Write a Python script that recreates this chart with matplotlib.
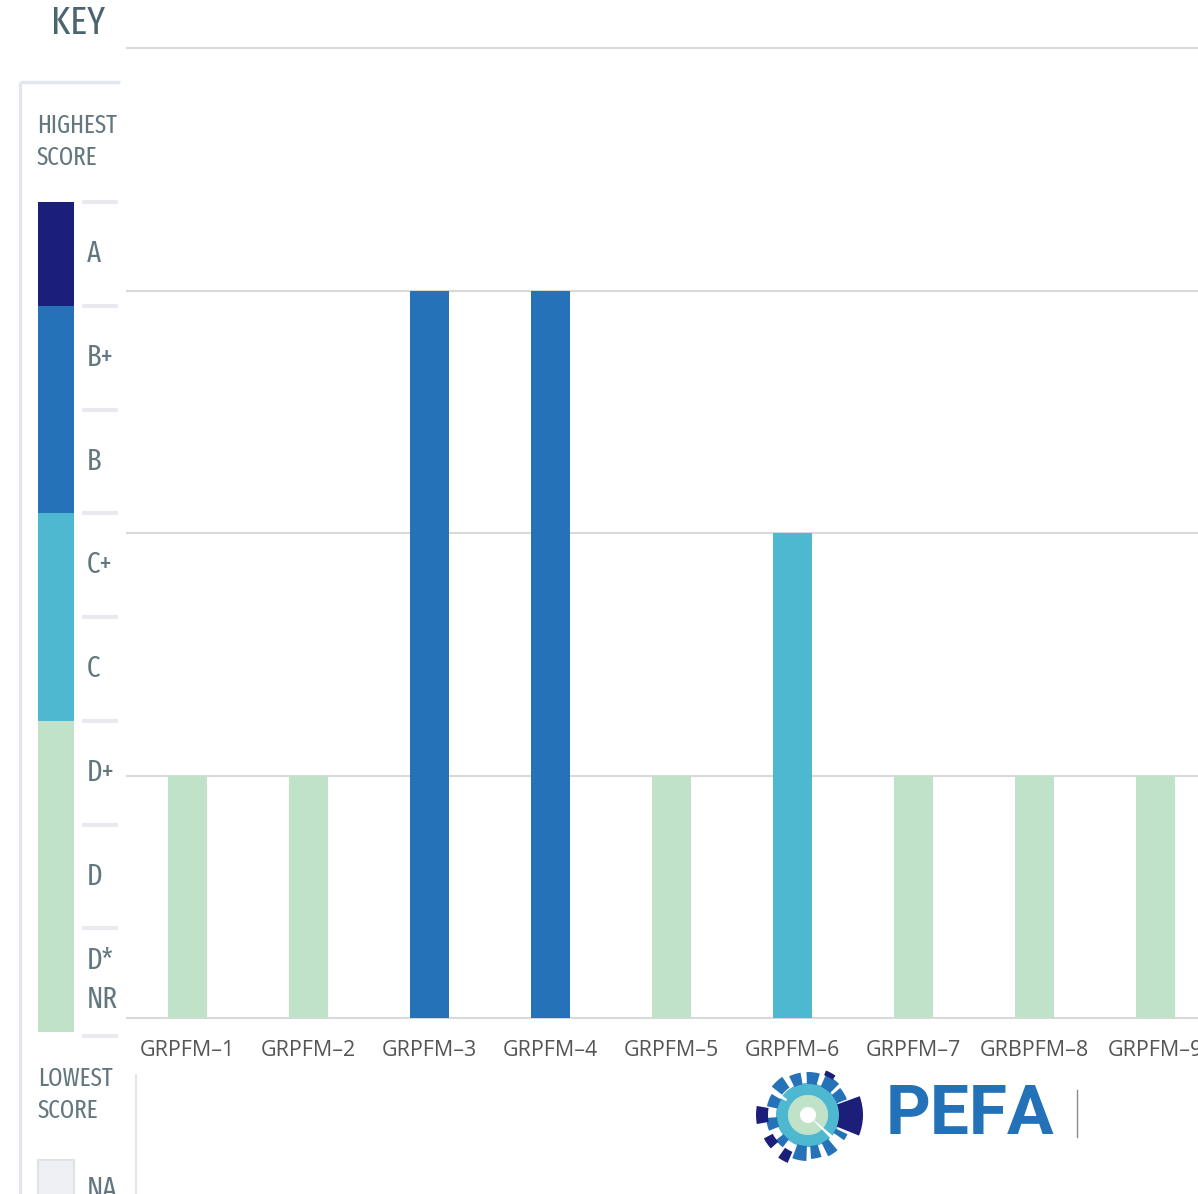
import matplotlib.pyplot as plt
from matplotlib import font_manager
from matplotlib.font_manager import FontProperties
from matplotlib.patches import Rectangle, Wedge
import numpy as np

# ---------------- data ----------------
categories = ["GRPFM–1", "GRPFM–2", "GRPFM–3", "GRPFM–4", "GRPFM–5",
              "GRPFM–6", "GRPFM–7", "GRBPFM–8", "GRPFM–9"]
scores = ["D+", "D+", "B+", "B+", "D+", "C+", "D+", "D+", "D+"]

score_levels = {"D+": 1, "C+": 2, "B+": 3, "A": 4}
key_grades = ["A", "B+", "B", "C+", "C", "D+", "D", "D*\nNR"]

NAVY = "#1b1f7a"
BLUE = "#2672b8"
CYAN = "#4fb8d1"
MINT = "#bfe2c9"
key_colors = [NAVY, BLUE, BLUE, CYAN, CYAN, MINT, MINT, MINT]
score_colors = {"A": NAVY, "B+": BLUE, "C+": CYAN, "D+": MINT}

# ---------------- narrow font for the key ----------------
def find_narrow():
    best, rank = None, 99
    for f in font_manager.fontManager.ttflist:
        fn = f.fname.replace("-", "").lower()
        if f.style != "normal" or f.weight not in (400, "normal", "regular"):
            continue
        if "extracondensed" in fn and "semi" not in fn:
            r = 0
        elif "condensed" in fn and "semi" not in fn:
            r = 1
        elif "narrow" in fn or f.stretch == "condensed":
            r = 2
        else:
            continue
        if r < rank:
            best, rank = f.fname, r
    return best

NARROW = find_narrow()

def kfont(size):
    if NARROW:
        return dict(fontproperties=FontProperties(fname=NARROW, size=size))
    return dict(fontproperties=FontProperties(family="DejaVu Sans", size=size * 0.62))

# ---------------- layout ----------------
W, H = 1198, 1194
key_txt = "#62777f"
light = "#e4e6ee"

fig = plt.figure(figsize=(W / 100, H / 100), dpi=100)
bg = fig.add_axes([0, 0, 1, 1])
bg.set_xlim(0, W)
bg.set_ylim(H, 0)
bg.axis("off")

# main bar chart
ax = fig.add_axes([127 / W, 1 - 1018 / H, 1 - 127 / W, (1018 - 48) / H])
ax.set_facecolor("none")
x = np.arange(len(categories))
heights = [score_levels[s] for s in scores]
ax.bar(x, heights, width=0.32, color=[score_colors[s] for s in scores], zorder=2)
for lvl in [0, 1, 2, 3, 4]:
    ax.axhline(lvl, color="#d9d9d9", lw=1.5, zorder=1, clip_on=False)
ax.set_xlim(-0.5, 8.35)
ax.set_ylim(0, 4)
ax.set_yticks([])
ax.set_xticks(x, categories)
ax.tick_params(axis="x", length=0, pad=16, labelsize=15.5, labelcolor="#555555")
for lab in ax.get_xticklabels():
    lab.set_family("Open Sans")
for s in ax.spines.values():
    s.set_visible(False)

# ---------------- key ----------------
bg.text(78, 23, "KEY", ha="center", va="center", color="#4b6470", **kfont(28))
bg.plot([20, 120], [82, 82], color=light, lw=2.5, solid_capstyle="butt")
bg.plot([20, 20], [82, H], color=light, lw=2.5, solid_capstyle="butt")
bg.text(37, 142, "HIGHEST\nSCORE", ha="left", va="center", color=key_txt,
        linespacing=1.35, **kfont(18))

top, row_h = 202, (1032 - 202) / len(key_grades)
for i, (g, c) in enumerate(zip(key_grades, key_colors)):
    y0 = top + i * row_h
    bg.add_patch(Rectangle((38, y0), 36, row_h, color=c, lw=0))
    bg.text(87, y0 + row_h / 2, g, ha="left", va="center", color=key_txt,
            linespacing=1.45, **kfont(21))
for i in range(len(key_grades) + 1):
    y0 = top + i * row_h + (4 if i == len(key_grades) else 0)
    bg.plot([82, 118], [y0, y0], color="#e8eaf0", lw=3, solid_capstyle="butt")

bg.text(38, 1095, "LOWEST\nSCORE", ha="left", va="center", color=key_txt,
        linespacing=1.35, **kfont(18))
bg.add_patch(Rectangle((38, 1160), 36, 50, fc="#eff0f4", ec="#e0e2ea", lw=1.5))
bg.text(87, 1190, "NA", ha="left", va="center", color=key_txt, **kfont(21))
bg.plot([136, 136], [1075, H], color=light, lw=1.5)

# ---------------- PEFA logo ----------------
bg.text(970, 1116, "PEFA", ha="center", va="center", fontsize=50,
        fontweight="bold", color="#2372b8", family="Roboto")
bg.plot([1077, 1077], [1090, 1137], color="#8a8a8a", lw=1)

lax = fig.add_axes([743 / W, 1 - 1180 / H, 130 / W, 130 / H])
lax.set_xlim(-65, 65)
lax.set_ylim(-65, 65)
lax.axis("off")
lax.add_patch(Wedge((0, 0), 20, 0, 360, width=12, color=MINT, lw=0))
lax.add_patch(Wedge((0, 0), 32, 0, 360, width=12, color=CYAN, lw=0))
blocks = [(100, 116, 31, 43, BLUE), (74, 92, 31, 43, BLUE), (45, 66, 31, 44, BLUE),
          (55, 68, 43, 48, NAVY), (22, 40, 31, 42, BLUE), (-22, 20, 31, 55, NAVY),
          (-35, -26, 31, 44, BLUE), (-64, -50, 31, 46, BLUE), (-86, -72, 31, 44, BLUE),
          (-110, -92, 31, 46, BLUE), (-125, -113, 40, 52, NAVY), (-142, -128, 31, 41, BLUE),
          (-152, -138, 40, 50, NAVY), (-176, -158, 31, 42, BLUE), (170, 190, 40, 52, NAVY),
          (150, 168, 31, 42, BLUE), (124, 142, 33, 46, BLUE)]
for t0, t1, r0, r1, c in blocks:
    lax.add_patch(Wedge((0, 0), r1, t0, t1, width=r1 - r0, color=c, lw=0))
lax.add_patch(Wedge((0, 0), 46, -46, -40, width=38, color="white", lw=0))
lax.add_patch(Wedge((0, 0), 46, 143, 148, width=20, color="white", lw=0))

fig.savefig("out.png", dpi=100)
